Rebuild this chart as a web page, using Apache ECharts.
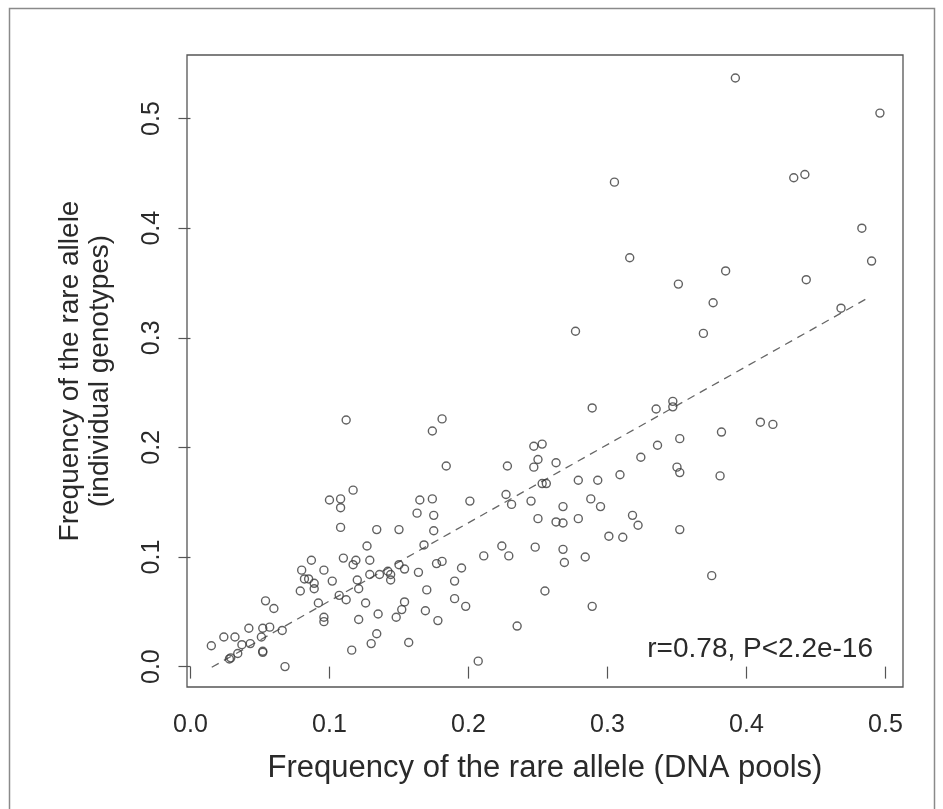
<!DOCTYPE html>
<html>
<head>
<meta charset="utf-8">
<script src="https://cdn.jsdelivr.net/npm/echarts@6/dist/echarts.min.js"></script>
<style>
html,body{margin:0;padding:0;background:#fff;}
#chart{width:943px;height:809px;}
</style>
</head>
<body>
<div id="chart"></div>
<script>
// Frequency of the rare allele: DNA pools (x) vs individual genotypes (y)
const poolFreq = [
  0.305,0.392,0.496,0.434,0.442,0.483,
  0.112,
  0.316,0.277,0.289,0.181,0.174,0.247,0.253,0.184,0.228,0.250,0.247,0.263,0.324,
  0.335,0.336,0.490,0.385,0.351,0.443,0.376,0.468,0.369,0.347,0.347,0.410,0.419,0.352,0.382,0.350,0.352,0.381,0.352,0.375,
  0.117,0.100,0.108,0.108,0.108,0.134,0.150,0.127,0.087,0.110,0.117,0.119,0.129,0.080,0.096,0.082,0.085,0.089,0.089,0.102,
  0.079,0.120,0.121,0.129,0.136,0.142,0.144,0.144,0.150,0.154,0.107,0.112,0.126,0.092,0.096,0.096,0.135,0.121,0.148,0.152,
  0.154,0.134,0.130,0.116,0.157,0.054,0.060,0.042,0.052,0.057,0.051,0.066,0.024,0.032,0.015,0.037,0.043,0.034,0.028,0.029,
  0.052,0.052,0.068,
  0.165,0.174,0.201,0.227,0.231,0.245,0.253,0.256,0.279,0.293,0.309,0.288,0.295,0.268,0.163,0.175,0.250,0.263,0.268,0.279,
  0.318,0.322,0.175,0.168,0.301,0.311,0.164,0.177,0.181,0.195,0.211,0.224,0.229,0.248,0.268,0.269,0.284,0.190,0.170,0.190,
  0.198,0.169,0.178,0.255,0.289,0.235,0.207
];
const genoFreq = [
  0.442,0.537,0.505,0.446,0.449,0.400,
  0.225,
  0.373,0.306,0.236,0.226,0.215,0.201,0.203,0.183,0.183,0.189,0.182,0.186,0.191,
  0.235,0.202,0.370,0.361,0.349,0.353,0.332,0.327,0.304,0.242,0.237,0.223,0.221,0.208,0.214,0.182,0.177,0.174,0.125,0.083,
  0.161,0.152,0.153,0.145,0.127,0.125,0.125,0.110,0.097,0.099,0.093,0.097,0.097,0.088,0.088,0.080,0.080,0.076,0.071,0.078,
  0.069,0.079,0.071,0.084,0.084,0.087,0.084,0.079,0.093,0.089,0.065,0.061,0.058,0.058,0.045,0.041,0.048,0.043,0.045,0.052,
  0.059,0.030,0.021,0.015,0.022,0.060,0.053,0.035,0.035,0.036,0.027,0.033,0.027,0.027,0.019,0.020,0.021,0.012,0.007,0.008,
  0.013,0.014,0.000,
  0.152,0.153,0.151,0.157,0.148,0.151,0.167,0.167,0.170,0.170,0.175,0.153,0.146,0.146,0.140,0.138,0.135,0.132,0.131,0.135,
  0.138,0.129,0.124,0.111,0.119,0.118,0.086,0.094,0.096,0.090,0.101,0.110,0.101,0.109,0.107,0.095,0.100,0.078,0.070,0.062,
  0.055,0.051,0.042,0.069,0.055,0.037,0.005
];
// Dashed fitted line, end points
const fitX = [0.0153, 0.489];
const fitY = [-0.0006, 0.3375];
// Tick labels
const tickValues = [0, 0.1, 0.2, 0.3, 0.4, 0.5];
const annotation = 'r=0.78, P<2.2e-16';
const xTitle = 'Frequency of the rare allele (DNA pools)';
const yTitle = 'Frequency of the rare allele\n(individual genotypes)';

const points = poolFreq.map((x, i) => [x, genoFreq[i]]);
const fitLine = fitX.map((x, i) => [x, fitY[i]]);

const chart = echarts.init(document.getElementById('chart'), null, {renderer: 'canvas'});
const font = '"Liberation Sans", Arial, sans-serif';
chart.setOption({
  backgroundColor: '#ffffff',
  animation: false,
  title: {
    text: annotation,
    right: 70, top: 635, padding: 0,
    textStyle: {fontFamily: font, fontSize: 28, fontWeight: 'normal', color: '#2a2a2a'}
  },
  graphic: [{
    type: 'rect', silent: true, z: -1,
    shape: {x: 9.5, y: 8.5, width: 925, height: 820},
    style: {fill: 'none', stroke: '#8a8a8a', lineWidth: 1.5}
  }],
  grid: {left: 187, right: 40, top: 55, bottom: 122, show: true, borderColor: '#555', borderWidth: 1.3, backgroundColor: 'transparent'},
  xAxis: {
    type: 'value', min: -0.0025, max: 0.5126,
    axisLine: {show: false},
    splitLine: {show: false},
    axisTick: {show: true, inside: false, length: 12, customValues: tickValues, lineStyle: {color: '#555', width: 1.2}},
    axisLabel: {customValues: tickValues, formatter: v => v.toFixed(1), fontFamily: font, fontSize: 25, color: '#2a2a2a', margin: 26},
    name: xTitle, nameLocation: 'middle', nameGap: 66,
    nameTextStyle: {fontFamily: font, fontSize: 31, color: '#2a2a2a'}
  },
  yAxis: {
    type: 'value', min: -0.0186, max: 0.558,
    axisLine: {show: false},
    splitLine: {show: false},
    axisTick: {show: true, inside: false, length: 12, customValues: tickValues, lineStyle: {color: '#555', width: 1.2}},
    axisLabel: {customValues: tickValues, formatter: v => v.toFixed(1), rotate: 90, fontFamily: font, fontSize: 25, color: '#2a2a2a', margin: 22},
    name: yTitle, nameLocation: 'middle', nameRotate: 90, nameGap: 72,
    nameTextStyle: {fontFamily: font, fontSize: 28, lineHeight: 30, color: '#2a2a2a', align: 'center'}
  },
  series: [
    {
      type: 'scatter', data: points, symbol: 'circle', symbolSize: 8,
      itemStyle: {color: 'rgba(255,255,255,0)', borderColor: '#3a3a3a', borderWidth: 1.4},
      z: 3
    },
    {
      type: 'line', data: fitLine, showSymbol: false, symbol: 'none',
      lineStyle: {color: '#666', width: 1.3, type: [8, 6]},
      z: 2
    }
  ]
});
</script>
</body>
</html>
